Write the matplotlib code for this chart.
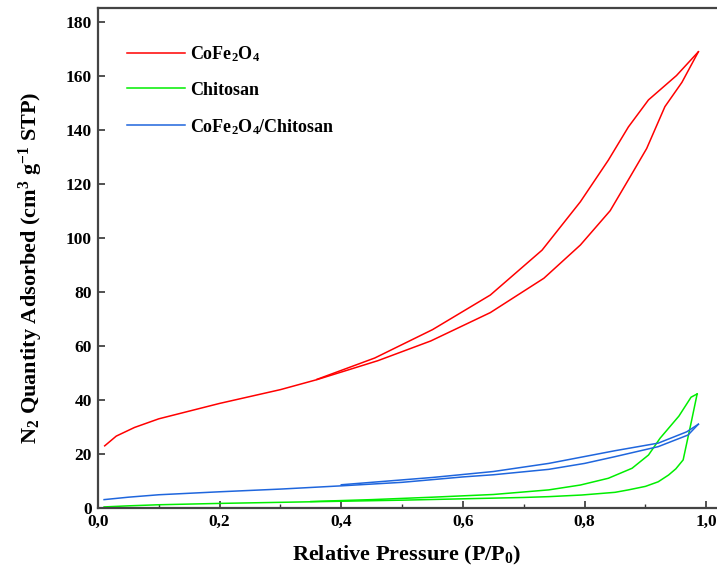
import matplotlib
matplotlib.use("Agg")
import matplotlib.pyplot as plt
from matplotlib.ticker import MultipleLocator, FixedLocator

plt.rcParams.update({
    "font.family": ["Liberation Serif", "DejaVu Serif"],
    "font.weight": "bold",
    "mathtext.fontset": "custom",
    "mathtext.rm": "Liberation Serif:bold",
    "mathtext.it": "Liberation Serif:bold",
    "mathtext.bf": "Liberation Serif:bold",
    "mathtext.default": "rm",
})

# CoFe2O4 isotherm
cofe_ads_x = [0.011, 0.03, 0.06, 0.10, 0.20, 0.30, 0.36, 0.46, 0.547, 0.645, 0.733, 0.793, 0.842, 0.875, 0.902, 0.932, 0.960, 0.987]
cofe_ads_y = [23.0, 26.6, 29.8, 33.0, 38.7, 43.8, 47.5, 54.5, 61.8, 72.3, 85.0, 97.3, 110.0, 122.6, 133.0, 148.5, 157.5, 168.8]
cofe_des_x = [0.987, 0.951, 0.905, 0.872, 0.839, 0.793, 0.730, 0.645, 0.550, 0.455, 0.36]
cofe_des_y = [168.8, 160.0, 151.0, 141.0, 128.7, 113.3, 95.4, 78.8, 66.0, 55.5, 47.6]

# Chitosan isotherm
chit_ads_x = [0.01, 0.05, 0.10, 0.20, 0.30, 0.40, 0.50, 0.60, 0.70, 0.741, 0.795, 0.85, 0.872, 0.90, 0.921, 0.938, 0.950, 0.962, 0.976, 0.985]
chit_ads_y = [0.4, 0.8, 1.2, 1.7, 2.1, 2.5, 2.9, 3.4, 3.9, 4.2, 4.8, 5.8, 6.7, 8.0, 9.7, 12.2, 14.5, 17.8, 32.5, 42.2]
chit_des_x = [0.985, 0.975, 0.955, 0.924, 0.905, 0.878, 0.839, 0.793, 0.741, 0.65, 0.55, 0.45, 0.35]
chit_des_y = [42.2, 41.0, 34.0, 25.8, 19.6, 14.7, 11.0, 8.5, 6.7, 5.0, 4.0, 3.1, 2.4]

# CoFe2O4/Chitosan isotherm
comp_ads_x = [0.01, 0.05, 0.10, 0.20, 0.30, 0.40, 0.50, 0.60, 0.65, 0.741, 0.80, 0.85, 0.921, 0.970, 0.987]
comp_ads_y = [3.1, 4.0, 4.9, 6.0, 7.0, 8.2, 9.5, 11.5, 12.3, 14.3, 16.5, 19.0, 22.7, 27.0, 31.0]
comp_des_x = [0.987, 0.968, 0.921, 0.85, 0.741, 0.65, 0.55, 0.45, 0.40]
comp_des_y = [31.0, 28.2, 24.0, 21.2, 16.5, 13.5, 11.3, 9.5, 8.6]

labels = ["CoFe$_2$O$_4$", "Chitosan", "CoFe$_2$O$_4$/Chitosan"]
colors = ["#ff0000", "#00ee00", "#1f66dd"]

x_ticks = [0.0, 0.2, 0.4, 0.6, 0.8, 1.0]
x_ticklabels = ["0,0", "0,2", "0,4", "0,6", "0,8", "1,0"]
y_ticks = [0, 20, 40, 60, 80, 100, 120, 140, 160, 180]

fig = plt.figure(figsize=(7.17, 5.72), dpi=100)
ax = fig.add_axes([98 / 717, 64 / 572, 618 / 717, 500 / 572])

series = [
    (cofe_ads_x, cofe_ads_y, cofe_des_x, cofe_des_y),
    (chit_ads_x, chit_ads_y, chit_des_x, chit_des_y),
    (comp_ads_x, comp_ads_y, comp_des_x, comp_des_y),
]
for (ax_x, ax_y, dx, dy), lab, c in zip(series, labels, colors):
    ax.plot(ax_x, ax_y, color=c, lw=1.1, label=lab)
    ax.plot(dx, dy, color=c, lw=1.1)

ax.set_xlim(0, 1.016)
ax.set_ylim(0, 185)

ax.xaxis.set_major_locator(FixedLocator(x_ticks))
ax.set_xticklabels(x_ticklabels)
ax.xaxis.set_minor_locator(MultipleLocator(0.1))
ax.yaxis.set_major_locator(FixedLocator(y_ticks))

ax.tick_params(axis="both", which="major", direction="in", length=5, width=1.2,
               labelsize=12.5, color="#333333", pad=4.5)
ax.tick_params(axis="x", which="minor", direction="in", length=3, width=1.0, color="#333333")

for side in ["left", "bottom", "top"]:
    ax.spines[side].set_color("#444444")
    ax.spines[side].set_linewidth(1.6)
ax.spines["right"].set_visible(False)

ax.set_xlabel("Relative Pressure (P/P$_0$)", fontsize=16, fontweight="bold")
ax.set_ylabel("N$_2$ Quantity Adsorbed (cm$^3$ g$^{-1}$ STP)", fontsize=16, fontweight="bold")
ax.xaxis.set_label_coords(0.5, -0.072)
ax.yaxis.set_label_coords(-0.086, 0.48)

leg = ax.legend(loc="upper left", bbox_to_anchor=(0.047, 0.928), frameon=False,
                fontsize=13, handlelength=3.2, handletextpad=0.3, labelspacing=1.0,
                borderpad=0, borderaxespad=0)

fig.savefig("out.png", dpi=100)
